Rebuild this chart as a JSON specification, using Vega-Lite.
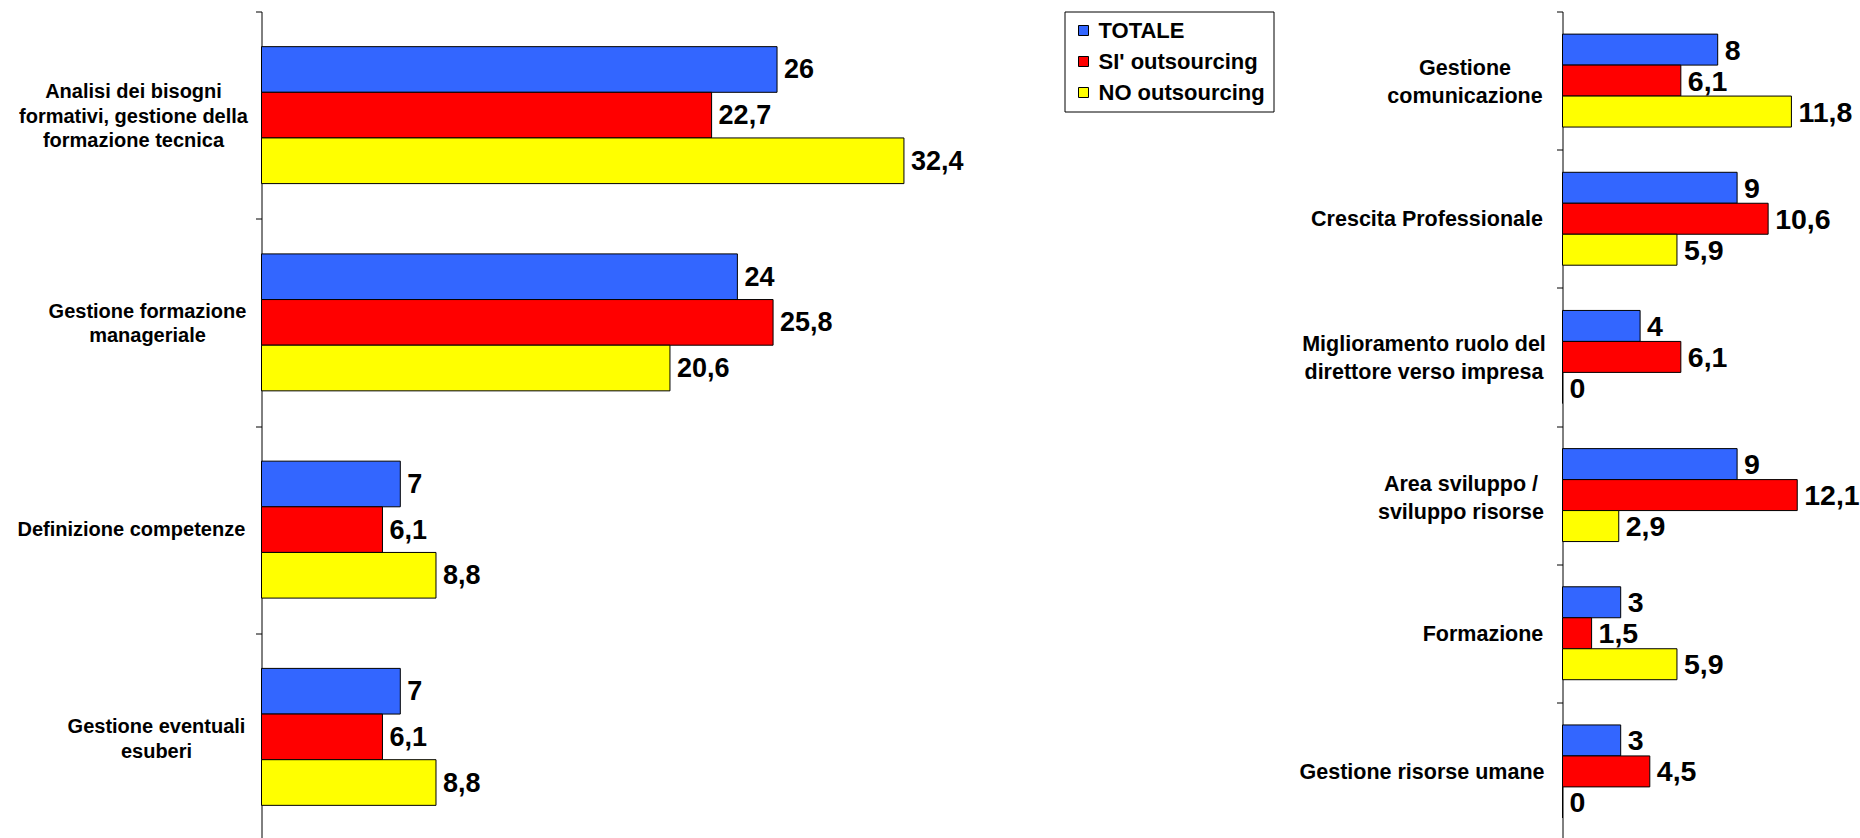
{
  "$schema": "https://vega.github.io/schema/vega-lite/v6.json",
  "padding": {"left": 16.5, "top": 0.5, "right": 0, "bottom": 0},
  "background": "white",
  "bounds": "flush",
  "spacing": 607,
  "config": {
    "locale": {"number": {"decimal": ",", "thousands": ".", "grouping": [3], "currency": ["", " €"]}},
    "view": {"stroke": null},
    "axis": {
      "domainColor": "black", "domainWidth": 1,
      "tickColor": "black", "tickSize": 6, "tickWidth": 1,
      "labelFont": "Liberation Sans", "labelFontWeight": "bold", "labelFontSize": 20,
      "labelColor": "black", "labelLimit": 500, "grid": false
    },
    "legend": {
      "orient": "none", "legendX": 803, "legendY": 0,
      "strokeColor": "black", "padding": 8, "rowPadding": 9,
      "symbolType": "square", "symbolSize": 100, "symbolStrokeColor": "black", "symbolStrokeWidth": 1,
      "labelFont": "Liberation Sans", "labelFontWeight": "bold", "labelFontSize": 22,
      "labelColor": "black", "labelOffset": 4, "symbolOpacity": 1, "labelLimit": 400
    }
  },
  "datasets": {
    "sinistra": [
      {"voce": "Analisi dei bisogni formativi, gestione della formazione tecnica", "serie": "TOTALE", "valore": 26},
      {"voce": "Analisi dei bisogni formativi, gestione della formazione tecnica", "serie": "SI' outsourcing", "valore": 22.7},
      {"voce": "Analisi dei bisogni formativi, gestione della formazione tecnica", "serie": "NO outsourcing", "valore": 32.4},
      {"voce": "Gestione formazione manageriale", "serie": "TOTALE", "valore": 24},
      {"voce": "Gestione formazione manageriale", "serie": "SI' outsourcing", "valore": 25.8},
      {"voce": "Gestione formazione manageriale", "serie": "NO outsourcing", "valore": 20.6},
      {"voce": "Definizione competenze", "serie": "TOTALE", "valore": 7},
      {"voce": "Definizione competenze", "serie": "SI' outsourcing", "valore": 6.1},
      {"voce": "Definizione competenze", "serie": "NO outsourcing", "valore": 8.8},
      {"voce": "Gestione eventuali esuberi", "serie": "TOTALE", "valore": 7},
      {"voce": "Gestione eventuali esuberi", "serie": "SI' outsourcing", "valore": 6.1},
      {"voce": "Gestione eventuali esuberi", "serie": "NO outsourcing", "valore": 8.8}
    ],
    "destra": [
      {"voce": "Gestione comunicazione", "serie": "TOTALE", "valore": 8},
      {"voce": "Gestione comunicazione", "serie": "SI' outsourcing", "valore": 6.1},
      {"voce": "Gestione comunicazione", "serie": "NO outsourcing", "valore": 11.8},
      {"voce": "Crescita Professionale", "serie": "TOTALE", "valore": 9},
      {"voce": "Crescita Professionale", "serie": "SI' outsourcing", "valore": 10.6},
      {"voce": "Crescita Professionale", "serie": "NO outsourcing", "valore": 5.9},
      {"voce": "Miglioramento ruolo del direttore verso impresa", "serie": "TOTALE", "valore": 4},
      {"voce": "Miglioramento ruolo del direttore verso impresa", "serie": "SI' outsourcing", "valore": 6.1},
      {"voce": "Miglioramento ruolo del direttore verso impresa", "serie": "NO outsourcing", "valore": 0},
      {"voce": "Area sviluppo / sviluppo risorse", "serie": "TOTALE", "valore": 9},
      {"voce": "Area sviluppo / sviluppo risorse", "serie": "SI' outsourcing", "valore": 12.1},
      {"voce": "Area sviluppo / sviluppo risorse", "serie": "NO outsourcing", "valore": 2.9},
      {"voce": "Formazione", "serie": "TOTALE", "valore": 3},
      {"voce": "Formazione", "serie": "SI' outsourcing", "valore": 1.5},
      {"voce": "Formazione", "serie": "NO outsourcing", "valore": 5.9},
      {"voce": "Gestione risorse umane", "serie": "TOTALE", "valore": 3},
      {"voce": "Gestione risorse umane", "serie": "SI' outsourcing", "valore": 4.5},
      {"voce": "Gestione risorse umane", "serie": "NO outsourcing", "valore": 0}
    ]
  },
  "resolve": {"scale": {"color": "shared", "yOffset": "independent", "y": "independent", "x": "independent"}},
  "hconcat": [
    {
      "width": 694,
      "height": 829,
      "data": {"name": "sinistra"},
      "encoding": {
        "y": {
          "field": "voce", "type": "nominal", "sort": null,
          "scale": {"paddingInner": 0, "paddingOuter": 0},
          "axis": {
            "title": null,
            "tickBand": "extent",
            "labelAlign": "center",
            "labelBaseline": "middle",
            "labelLineHeight": 24.5,
            "labelPadding": {
              "condition": [
                {"test": "datum.value == 'Analisi dei bisogni formativi, gestione della formazione tecnica'", "value": 122.5},
                {"test": "datum.value == 'Gestione formazione manageriale'", "value": 108.5},
                {"test": "datum.value == 'Definizione competenze'", "value": 124.6}
              ],
              "value": 99.5
            },
            "labelOffset": {
              "condition": [
                {"test": "datum.value == 'Analisi dei bisogni formativi, gestione della formazione tecnica'", "value": -23.5},
                {"test": "datum.value == 'Gestione formazione manageriale'", "value": -11},
                {"test": "datum.value == 'Gestione eventuali esuberi'", "value": -10}
              ],
              "value": 0
            },
            "labelExpr": "datum.value == 'Analisi dei bisogni formativi, gestione della formazione tecnica' ? ['Analisi dei bisogni', 'formativi, gestione della', 'formazione tecnica'] : datum.value == 'Gestione formazione manageriale' ? ['Gestione formazione', 'manageriale'] : datum.value == 'Gestione eventuali esuberi' ? ['Gestione eventuali', 'esuberi'] : datum.value"
          }
        },
        "yOffset": {
          "field": "serie", "type": "nominal",
          "sort": ["TOTALE", "SI' outsourcing", "NO outsourcing"],
          "scale": {"paddingInner": 0, "paddingOuter": 0.77}
        },
        "x": {"field": "valore", "type": "quantitative", "scale": {"domain": [0, 35], "nice": false, "zero": true}, "axis": null}
      },
      "layer": [
        {
          "mark": {"type": "bar", "stroke": "black", "strokeWidth": 1},
          "encoding": {
            "color": {
              "field": "serie", "type": "nominal", "title": null,
              "scale": {"domain": ["TOTALE", "SI' outsourcing", "NO outsourcing"], "range": ["#3366FF", "#FF0000", "#FFFF00"]}
            }
          }
        },
        {
          "mark": {"type": "text", "align": "left", "baseline": "middle", "dx": 7, "dy": 1, "font": "Liberation Sans", "fontWeight": "bold", "fontSize": 27, "color": "black"},
          "encoding": {"text": {"field": "valore", "type": "quantitative", "format": ".1~f"}}
        }
      ]
    },
    {
      "width": 291,
      "height": 829,
      "data": {"name": "destra"},
      "encoding": {
        "y": {
          "field": "voce", "type": "nominal", "sort": null,
          "scale": {"paddingInner": 0, "paddingOuter": 0},
          "axis": {
            "title": null,
            "tickBand": "extent",
            "labelAlign": "center",
            "labelBaseline": "middle",
            "labelFontSize": 21.5,
            "labelLineHeight": 28,
            "labelPadding": {
              "condition": [
                {"test": "datum.value == 'Gestione comunicazione'", "value": 92},
                {"test": "datum.value == 'Crescita Professionale'", "value": 130},
                {"test": "datum.value == 'Miglioramento ruolo del direttore verso impresa'", "value": 133},
                {"test": "datum.value == 'Area sviluppo / sviluppo risorse'", "value": 96},
                {"test": "datum.value == 'Formazione'", "value": 74}
              ],
              "value": 135
            },
            "labelOffset": {
              "condition": [
                {"test": "datum.value == 'Gestione comunicazione'", "value": -12},
                {"test": "datum.value == 'Miglioramento ruolo del direttore verso impresa'", "value": -12},
                {"test": "datum.value == 'Area sviluppo / sviluppo risorse'", "value": -11}
              ],
              "value": 1
            },
            "labelExpr": "datum.value == 'Gestione comunicazione' ? ['Gestione', 'comunicazione'] : datum.value == 'Miglioramento ruolo del direttore verso impresa' ? ['Miglioramento ruolo del', 'direttore verso impresa'] : datum.value == 'Area sviluppo / sviluppo risorse' ? ['Area sviluppo /', 'sviluppo risorse'] : datum.value"
          }
        },
        "yOffset": {
          "field": "serie", "type": "nominal",
          "sort": ["TOTALE", "SI' outsourcing", "NO outsourcing"],
          "scale": {"paddingInner": 0, "paddingOuter": 0.73}
        },
        "x": {"field": "valore", "type": "quantitative", "scale": {"domain": [0, 15], "nice": false, "zero": true}, "axis": null}
      },
      "layer": [
        {
          "mark": {"type": "bar", "stroke": "black", "strokeWidth": 1},
          "encoding": {
            "color": {
              "field": "serie", "type": "nominal", "title": null,
              "scale": {"domain": ["TOTALE", "SI' outsourcing", "NO outsourcing"], "range": ["#3366FF", "#FF0000", "#FFFF00"]}
            }
          }
        },
        {
          "mark": {"type": "text", "align": "left", "baseline": "middle", "dx": 7, "dy": 1, "font": "Liberation Sans", "fontWeight": "bold", "fontSize": 28.5, "color": "black"},
          "encoding": {"text": {"field": "valore", "type": "quantitative", "format": ".1~f"}}
        }
      ]
    }
  ]
}
